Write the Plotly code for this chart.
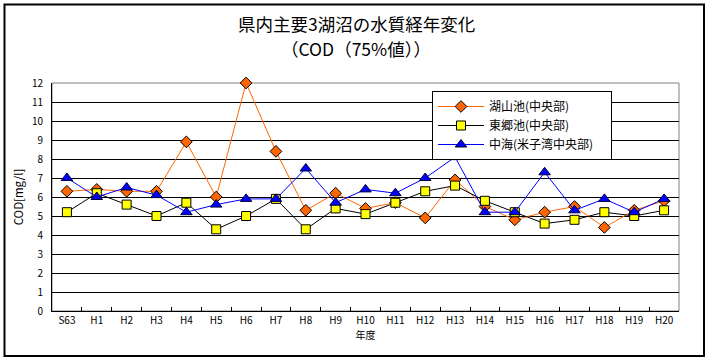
import plotly.graph_objects as go

categories = ["S63", "H1", "H2", "H3", "H4", "H5", "H6", "H7", "H8", "H9", "H10",
              "H11", "H12", "H13", "H14", "H15", "H16", "H17", "H18", "H19", "H20"]
koyama = [6.3, 6.4, 6.3, 6.3, 8.9, 6.0, 12.0, 8.4, 5.3, 6.2, 5.4,
          5.7, 4.9, 6.9, 5.5, 4.8, 5.2, 5.5, 4.4, 5.3, 5.8]
togo = [5.2, 6.2, 5.6, 5.0, 5.7, 4.3, 5.0, 5.9, 4.3, 5.4, 5.1,
        5.7, 6.3, 6.6, 5.8, 5.2, 4.6, 4.8, 5.2, 5.0, 5.3]
nakaumi = [7.0, 6.0, 6.5, 6.1, 5.2, 5.6, 5.9, 5.9, 7.5, 5.7, 6.4,
           6.2, 7.0, 8.1, 5.2, 5.2, 7.3, 5.3, 5.9, 5.2, 5.9]
y_ticks = list(range(0, 13))

W, H = 708, 359
ML, MR, MT, MB = 52, 29, 83, 48
PW, PH = W - ML - MR, H - MT - MB


def px(x):
    return (x - ML) / PW


def py(y):
    return (H - MB - y) / PH


FONT = "Noto Sans CJK JP"

fig = go.Figure()
fig.add_trace(go.Scatter(
    x=categories, y=koyama, name="湖山池(中央部)", mode="lines+markers",
    cliponaxis=False,
    line=dict(color="#FF6600", width=1),
    marker=dict(symbol="diamond", size=9, color="#FF6600",
                line=dict(color="#000000", width=1))))
fig.add_trace(go.Scatter(
    x=categories, y=togo, name="東郷池(中央部)", mode="lines+markers",
    cliponaxis=False,
    line=dict(color="#000000", width=1),
    marker=dict(symbol="square", size=9, color="#FFFF00",
                line=dict(color="#000000", width=1))))
fig.add_trace(go.Scatter(
    x=categories, y=nakaumi, name="中海(米子湾中央部)\u2003", mode="lines+markers",
    cliponaxis=False,
    line=dict(color="#0000FF", width=1),
    marker=dict(symbol="triangle-up", size=10, color="#0000FF",
                line=dict(color="#000033", width=1))))

fig.update_layout(
    width=W, height=H,
    margin=dict(l=ML, r=MR, t=MT, b=MB, pad=0),
    paper_bgcolor="white", plot_bgcolor="white",
    font=dict(family=FONT, size=10, color="black"),
    showlegend=True,
    legend=dict(x=px(432), y=py(91), xanchor="left", yanchor="top",
                bgcolor="white", bordercolor="black", borderwidth=1,
                font=dict(size=12, family=FONT), tracegroupgap=0,
                itemwidth=46),
    xaxis=dict(type="category", range=[-0.5, 20.5], showgrid=False,
               showline=True, linecolor="black", linewidth=1,
               ticks="inside", ticklen=4, tickangle=0,
               tickcolor="black", tickson="boundaries",
               tickfont=dict(size=10), zeroline=False, fixedrange=True,
               title=dict(text="年度", font=dict(size=10), standoff=4)),
    yaxis=dict(range=[0, 12], tickvals=y_ticks, showgrid=True,
               gridcolor="black", gridwidth=1, showline=True,
               linecolor="black", linewidth=1, ticks="", zeroline=False,
               tickfont=dict(size=10), ticklabelstandoff=6, fixedrange=True,
               title=dict(text="COD[mg/l]", font=dict(size=11.5), standoff=5)),
    shapes=[
        dict(type="rect", xref="paper", yref="paper", x0=0, x1=1, y0=0, y1=1,
             line=dict(color="#808080", width=1), layer="between"),
        dict(type="rect", xref="paper", yref="paper",
             x0=px(4.5), x1=px(704), y0=py(356), y1=py(4.5),
             line=dict(color="black", width=2)),
    ],
    annotations=[
        dict(text="県内主要3湖沼の水質経年変化",
             xref="paper", yref="paper", borderpad=0,
             x=px(356), y=py(24), showarrow=False, font=dict(size=17.5),
             xanchor="center", yanchor="middle"),
        dict(text="（COD（75%値））",
             xref="paper", yref="paper", borderpad=0,
             x=px(356), y=py(48), showarrow=False, font=dict(size=17.5),
             xanchor="center", yanchor="middle"),
    ],
)

fig.write_html("out.html",
               config={"displayModeBar": False},
               post_script="document.body.style.margin='0';"
                           "document.body.style.padding='0';")
